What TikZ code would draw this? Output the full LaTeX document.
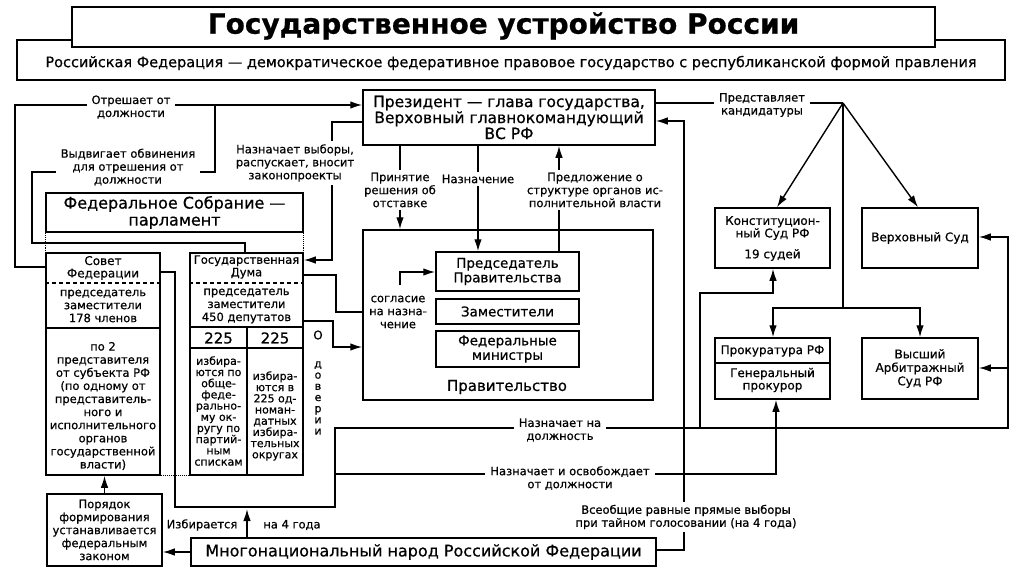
\documentclass[tikz,border=0pt]{standalone}
\usepackage{fontspec}
\setmainfont{DejaVu Sans}[FakeBold=0.6]
\usetikzlibrary{arrows.meta}
\newcommand\fsz[2]{\fontsize{#1}{#2}\selectfont}
\begin{document}
\begin{tikzpicture}[x=1pt,y=-1pt,
  bx/.style={draw, line width=1.5pt, inner sep=0pt, align=center},
  ln/.style={line width=1.4pt},
  arr/.style={line width=1.4pt, -{Latex[length=12pt,width=7.5pt]}},
  lbl/.style={fill=white, inner xsep=5pt, inner ysep=3pt, align=center, font=\fsz{11.5}{13}},
  txt/.style={inner sep=0pt, align=center, font=\fsz{11.5}{13}},
  dots/.style={line width=1.1pt, densely dotted},
  dsh/.style={line width=1.1pt, dash pattern=on 4pt off 3pt},
]
\useasboundingbox (0,0) rectangle (1024,574);
% header
\node[bx, minimum width=988pt, minimum height=40pt] (sub) at (511,60) {};
\node[bx, fill=white, minimum width=863pt, minimum height=40pt] (title) at (503.5,27) {};
\node[txt, font=\bfseries\fsz{28}{28}] (titletxt) at (503.5,26) {Государственное устройство России};
\node[txt, font=\fsz{14.5}{15}] (subtxt) at (511,63) {Российская Федерация — демократическое федеративное правовое государство с республиканской формой правления};

% boxes
\node[bx, minimum width=292pt, minimum height=55pt, font=\fsz{15.5}{16}] (pres) at (509,117.5) {Президент — глава государства,\\Верховный главнокомандующий\\ВС РФ};
\node[bx, minimum width=257pt, minimum height=39pt, font=\fsz{16}{17}] (fa) at (174.5,212.5) {Федеральное Собрание —\\парламент};
\node[bx, minimum width=114pt, minimum height=222pt] (sovet) at (103,364) {};
\node[bx, minimum width=113pt, minimum height=222pt] (duma) at (246.5,364) {};
\node[bx, minimum width=290pt, minimum height=170pt] (gov) at (508,315) {};
\node[bx, minimum width=143pt, minimum height=39pt, font=\fsz{13.5}{14.5}] (chair) at (507.5,271.5) {Председатель\\Правительства};
\node[bx, minimum width=143pt, minimum height=25pt, font=\fsz{13.5}{14.5}] (zam) at (507.5,311.5) {Заместители};
\node[bx, minimum width=143pt, minimum height=36pt, font=\fsz{13.5}{14.5}] (mins) at (507.5,349) {Федеральные\\министры};
\node[bx, minimum width=115pt, minimum height=60pt] (konst) at (772.5,238) {};
\node[bx, minimum width=116pt, minimum height=60pt, font=\fsz{12}{13}] (verkh) at (920,238) {Верховный Суд};
\node[bx, minimum width=115pt, minimum height=61pt] (prok) at (772.5,368.5) {};
\node[bx, minimum width=116pt, minimum height=61pt, font=\fsz{12}{13.5}] (vas) at (920,368.5) {Высший\\Арбитражный\\Суд РФ};
\node[bx, minimum width=115pt, minimum height=72pt, font=\fsz{11.5}{13}] (por) at (104.5,530) {Порядок\\формирования\\устанавливается\\федеральным\\законом};
\node[bx, minimum width=465pt, minimum height=28pt, font=\fsz{16}{17}] (people) at (423.5,552) {Многонациональный народ Российской Федерации};

% inner divisions
\draw[dsh] (sovet.west |- 0,283) -- (sovet.east |- 0,283);
\draw[ln] (sovet.west |- 0,328) -- (sovet.east |- 0,328);
\draw[dsh] (duma.west |- 0,283) -- (duma.east |- 0,283);
\draw[ln] (duma.west |- 0,327) -- (duma.east |- 0,327);
\draw[ln] (duma.west |- 0,348) -- (duma.east |- 0,348);
\draw[ln] (247,327) -- (duma.south -| 247,0);
\draw[ln] (prok.west |- 0,363) -- (prok.east |- 0,363);

% texts in boxes
\node[txt, font=\fsz{12}{12.5}] (sv1) at (103,268) {Совет\\Федерации};
\node[txt] (sv2) at (103,306) {председатель\\заместители\\178 членов};
\node[txt, font=\fsz{11.5}{13.1}] (sv3) at (103,406) {по 2\\представителя\\от субъекта РФ\\(по одному от\\представитель-\\ного и\\исполнительного\\органов\\государственной\\власти)};
\node[txt, font=\fsz{11.5}{12.5}] (dm1) at (246.5,267) {Государственная\\Дума};
\node[txt] (dm2) at (246.5,306) {председатель\\заместители\\450 депутатов};
\node[txt, font=\fsz{15}{15}] (dm3) at (218.5,338) {225};
\node[txt, font=\fsz{15}{15}] (dm4) at (275,338) {225};
\node[txt, font=\fsz{11}{11.2}] (dm5) at (218.5,411) {избира-\\ются по\\обще-\\феде-\\рально-\\му ок-\\ругу по\\партий-\\ным\\спискам};
\node[txt, font=\fsz{11}{11.2}] (dm6) at (275,416) {избира-\\ются в\\225 од-\\номан-\\датных\\избира-\\тельных\\округах};
\node[txt, font=\fsz{12}{12}] (dov1) at (318,335) {О};
\node[txt, font=\fsz{11}{11.2}] (dov2) at (318,398) {д\\о\\в\\е\\р\\и\\и};
\node[txt, font=\fsz{15}{15}] (govtxt) at (507,387) {Правительство};
\node[txt, font=\fsz{12}{12.5}] (ks1) at (772.5,228) {Конституцион-\\ный Суд РФ};
\node[txt, font=\fsz{12}{12.5}] (ks2) at (772.5,255) {19 судей};
\node[txt, font=\fsz{12}{12.5}] (pr1) at (772.5,351) {Прокуратура РФ};
\node[txt, font=\fsz{12}{12.5}] (pr2) at (772.5,380) {Генеральный\\прокурор};

% dotted assembly links
\draw[dots] (fa.south west) -- (fa.south west |- sovet.north);
\draw[dots] (fa.south east) -- (fa.south east |- duma.north);
\draw[dots] (sovet.south east) -- (duma.south west);

% connectors
\draw[arr] (sovet.west |- 0,267) -- (15,267) -- (15,105) -- (pres.west |- 0,105);
\draw[ln] (duma.north -| 245,0) -- (245,243) -- (32,243) -- (32,172) -- (215,172) -- (215,105);
\draw[arr] (pres.west |- 0,122) -- (332,122) -- (332,260) -- (duma.east |- 0,260);
\draw[arr] (pres.south -| 400,0) -- (gov.north -| 400,0);
\draw[arr] (pres.south -| 478,0) -- (chair.north -| 478,0);
\draw[arr] (chair.north -| 559,0) -- (pres.south -| 559,0);
\draw[ln] (duma.east |- 0,275) -- (336,275) -- (336,312) -- (gov.west |- 0,312);
\draw[arr] (duma.east |- 0,321) -- (333,321) -- (333,347) -- (gov.west |- 0,347);
\draw[arr] (400,285) -- (400,272) -- (chair.west |- 0,272);
\coordinate (rep) at (843,103);
\draw[ln] (pres.east |- rep) -- (rep);
\draw[arr] (rep) -- (konst.north -| 777,0);
\draw[arr] (rep) -- (verkh.north -| 918,0);
\draw[ln] (rep) -- (843,308);
\draw[arr] (843,308) -| (prok.north -| 773,0);
\draw[arr] (843,308) -| (vas.north -| 920,0);
\draw[arr] (people.east |- 0,550) -- (684,550) -- (684,121) -- (pres.east |- 0,121);
\draw[arr] (people.west) -- (people.west -| por.east);
\draw[arr] (por.north) -- (por.north |- sovet.south);
\draw[arr] (people.north -| 247,0) -- (247,509);
\draw[arr] (sovet.east |- 0,272) -- (175,272) -- (175,507) -- (335,507) -- (335,428) -- (1008,428) -- (1008,237) -- (verkh.east |- 0,237);
\draw[arr] (1008,368) -- (vas.east |- 0,368);
\draw[arr] (700,428) -- (700,293) -- (773,293) -- (konst.south -| 773,0);
\draw[arr] (335,474) -- (776,474) -- (prok.south -| 776,0);

% labels
\node[lbl] (l1) at (131,107) {Отрешает от\\должности};
\node[lbl] (l2) at (128,167) {Выдвигает обвинения\\для отрешения от\\должности};
\node[lbl] (l3) at (295,163) {Назначает выборы,\\распускает, вносит\\законопроекты};
\node[lbl] (l4) at (400,190) {Принятие\\решения об\\отставке};
\node[lbl] (l5) at (478,179) {Назначение};
\node[lbl] (l6) at (595,190) {Предложение о\\структуре органов ис-\\полнительной власти};
\node[lbl] (l7) at (762,105) {Представляет\\кандидатуры};
\node[lbl] (l8) at (398,312) {согласие\\на назна-\\чение};
\node[lbl] (l9) at (560,430) {Назначает на\\должность};
\node[lbl] (l10) at (570,478) {Назначает и освобождает\\от должности};
\node[lbl] (l11) at (686,517) {Всеобщие равные прямые выборы\\при тайном голосовании (на 4 года)};
\node[txt] (l12) at (202,525) {Избирается};
\node[txt] (l13) at (292,525) {на 4 года};
\end{tikzpicture}
\end{document}
